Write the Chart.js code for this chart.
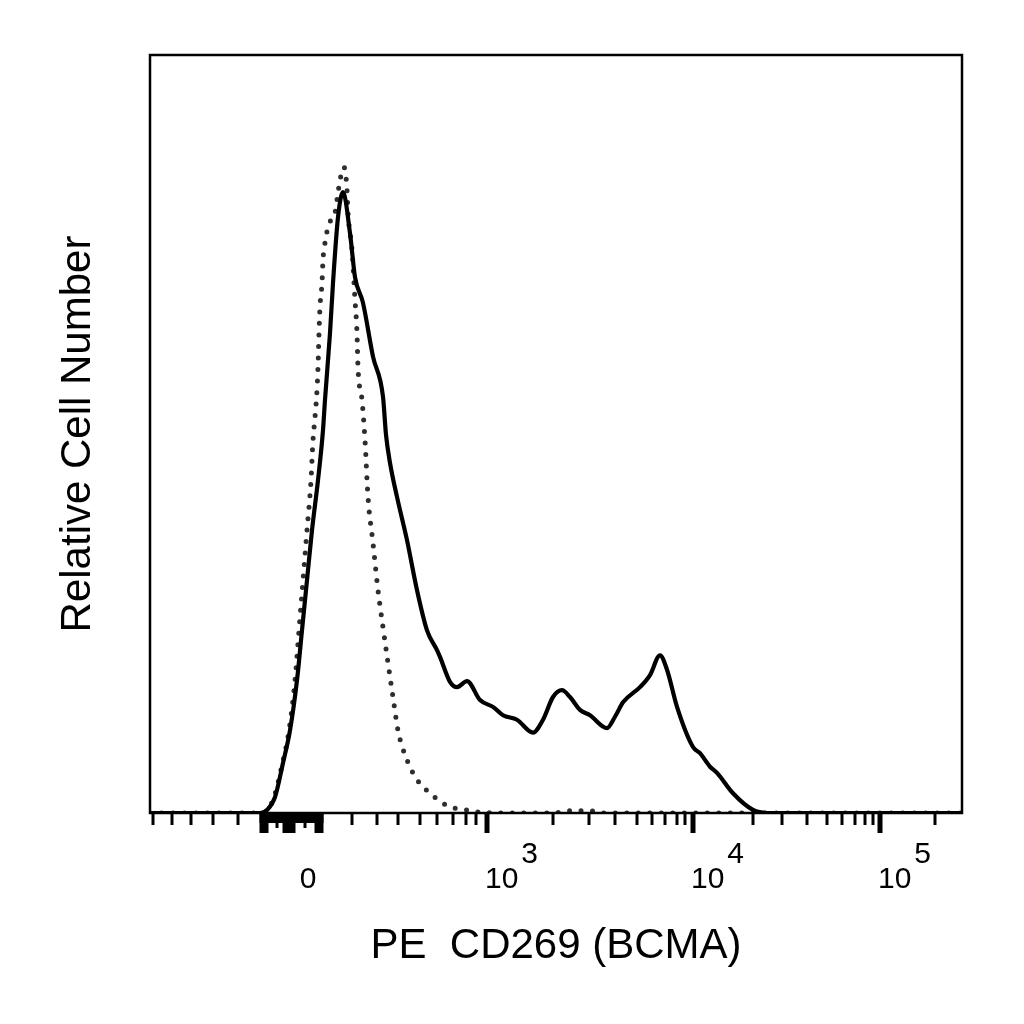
<!DOCTYPE html>
<html>
<head>
<meta charset="utf-8">
<script src="https://cdn.jsdelivr.net/npm/chart.js@4.4.1/dist/chart.umd.min.js"></script>
<style>
    html, body { margin: 0; padding: 0; background: #fff; }
    canvas { display: block; }
</style>
</head>
<body>
<canvas id="histChart" width="1024" height="1024"></canvas>
<script>
// x values are display channels (0..812 across the plot), y is % of max
const stainedX = [0, 105, 110, 117, 125, 133, 140, 147, 152, 157, 162, 168, 173, 175, 180, 183, 188, 193,
    200, 205, 213, 223, 233, 236, 240, 247, 257, 267, 277, 287, 290, 300, 307, 317, 330, 343, 353, 367,
    383, 393, 403, 412, 420, 430, 440, 457, 465, 473, 490, 500, 510, 517, 527, 543, 550, 560, 567, 583,
    603, 617, 812];
const stainedY = [0, 0, 0, 0.4, 2.1, 6.6, 10.9, 17.5, 24.1, 30.7, 37.3, 43.9, 50.5, 54.5, 63.3, 69.9, 78.6, 81.9,
    76.5, 70.7, 67.3, 60.2, 54.9, 49.9, 46.2, 41.7, 36.0, 29.4, 24.1, 21.5, 20.6, 17.3, 16.6, 17.4, 14.9, 14.0, 12.9, 12.3,
    10.6, 12.3, 15.3, 16.2, 15.3, 13.6, 12.9, 11.2, 12.7, 14.6, 16.6, 18.2, 20.8, 18.9, 14.0, 8.7, 7.9, 6.1, 5.3, 2.6,
    0.4, 0, 0];

const isotypeX = [0, 112, 115, 124, 132, 139, 145, 149, 153, 157, 161, 163, 165, 167, 168, 169, 170, 172, 173,
    176, 178, 185, 188, 190, 194, 197, 198, 202, 205, 207, 208, 212, 215, 218, 223, 228, 233, 238, 243, 248,
    257, 267, 280, 293, 300, 317, 330, 350, 405, 415, 440, 450, 812];
const isotypeY = [0, 0, 0.1, 2.1, 6.3, 10.9, 17.5, 24.1, 30.7, 37.3, 43.9, 49.2, 52.2, 55.8, 58.8, 63.3, 66.8, 69.9, 73.0,
    75.9, 77.4, 79.2, 81.8, 83.5, 85.2, 82.2, 79.2, 74.3, 67.7, 63.3, 58.8, 54.5, 49.2, 41.7, 35.6, 29.4, 24.5, 19.8, 15.3, 10.9,
    7.0, 4.4, 2.6, 1.3, 0.8, 0.4, 0.1, 0, 0, 0.3, 0.3, 0, 0];

// axis decorations, same channel units
const minorTicks = [3, 22, 41, 63, 88, 202, 227, 248, 270, 287, 303, 316, 326, 403, 439, 465, 487, 502, 515,
    527, 535, 603, 632, 657, 677, 692, 705, 715, 723, 785];
const majorTicks = [337, 543, 730];
const majorExps = ["3", "4", "5"];
const zeroShortTicks = [111, 113, 115, 117, 119, 121, 123, 125, 127, 129, 131, 133, 135, 137, 139, 141, 143, 145,
    147, 149, 151, 153, 155, 157, 159, 161, 163, 165, 167, 169, 171, 172];
const zeroLongTicks = [111, 113, 115, 117, 134, 136, 138, 140, 142, 144, 166, 168, 170, 172];
const zeroMidTicks = [127, 155];
const zeroLabelPos = 158;

const FONT = '"Liberation Sans", Arial, sans-serif';

function toPoints(xs, ys) {
    return xs.map((x, i) => ({ x: x, y: ys[i] }));
}

const axisDecor = {
    id: "axisDecor",
    afterDraw(chart) {
        const ctx = chart.ctx;
        const area = chart.chartArea;
        const xs = chart.scales.x;
        const base = area.bottom;

        ctx.save();
        ctx.strokeStyle = "#000";
        ctx.lineCap = "butt";

        function tick(v, len, w) {
            const px = xs.getPixelForValue(v);
            ctx.lineWidth = w;
            ctx.beginPath();
            ctx.moveTo(px, base);
            ctx.lineTo(px, base + len);
            ctx.stroke();
        }

        minorTicks.forEach(v => tick(v, 12, 3));
        zeroShortTicks.forEach(v => tick(v, 10, 3));
        zeroMidTicks.forEach(v => tick(v, 15, 3));
        zeroLongTicks.forEach(v => tick(v, 20, 3));
        majorTicks.forEach(v => tick(v, 20, 5));

        // frame
        ctx.lineWidth = 2.5;
        ctx.strokeRect(area.left, area.top, area.right - area.left, area.bottom - area.top);

        // tick labels
        ctx.fillStyle = "#000";
        ctx.font = "30px " + FONT;
        ctx.textBaseline = "alphabetic";
        ctx.textAlign = "center";
        ctx.fillText("0", xs.getPixelForValue(zeroLabelPos), base + 75);

        ctx.textAlign = "left";
        majorTicks.forEach((v, i) => {
            const px = xs.getPixelForValue(v) - 2;
            ctx.fillText("10", px, base + 75);
            const w = ctx.measureText("10").width;
            ctx.fillText(majorExps[i], px + w + 3, base + 50);
        });
        ctx.restore();
    }
};

new Chart(document.getElementById("histChart"), {
    type: "line",
    data: {
        datasets: [{
            label: "CD269 (BCMA)",
            data: toPoints(stainedX, stainedY),
            borderColor: "#000",
            borderWidth: 4.2,
            borderJoinStyle: "round",
            pointRadius: 0,
            cubicInterpolationMode: "monotone",
            fill: false
        }, {
            label: "Isotype control",
            data: toPoints(isotypeX, isotypeY),
            borderColor: "#2e2e2e",
            borderWidth: 5,
            borderDash: [0, 11.5],
            borderCapStyle: "round",
            pointRadius: 0,
            cubicInterpolationMode: "monotone",
            fill: false
        }]
    },
    options: {
        responsive: false,
        devicePixelRatio: 1,
        animation: false,
        layout: { padding: { left: 0, right: 62, top: 55, bottom: 0 } },
        plugins: {
            legend: { display: false },
            tooltip: { enabled: false }
        },
        scales: {
            x: {
                type: "linear",
                min: 0,
                max: 812,
                grid: { display: false, drawTicks: false },
                border: { display: false },
                ticks: { display: false },
                title: {
                    display: true,
                    text: "PE  CD269 (BCMA)",
                    color: "#000",
                    font: { family: FONT, size: 42 },
                    padding: { top: 0, bottom: 52 }
                },
                afterFit: s => { s.height = 211; }
            },
            y: {
                type: "linear",
                min: 0,
                max: 100,
                grid: { display: false, drawTicks: false },
                border: { display: false },
                ticks: { display: false },
                title: {
                    display: true,
                    text: "Relative Cell Number",
                    color: "#000",
                    font: { family: FONT, size: 42 },
                    padding: { top: 53, bottom: 0 }
                },
                afterFit: s => { s.width = 150; }
            }
        }
    },
    plugins: [axisDecor]
});
</script>
</body>
</html>
